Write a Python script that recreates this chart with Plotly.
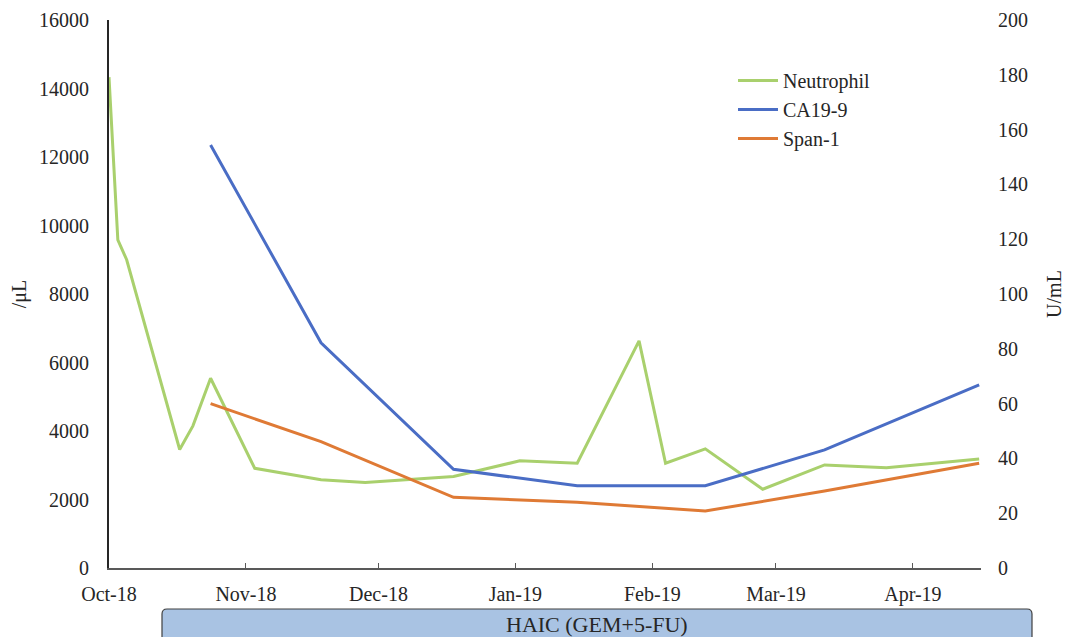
import plotly.graph_objects as go

# ---- data ----
neut_dates = ["2018-10-01", "2018-10-03", "2018-10-05", "2018-10-17", "2018-10-20",
              "2018-10-24", "2018-11-03", "2018-11-18", "2018-11-28", "2018-12-18",
              "2019-01-02", "2019-01-15", "2019-01-29", "2019-02-04", "2019-02-13",
              "2019-02-26", "2019-03-12", "2019-03-26", "2019-04-16"]
neutrophil = [14330, 9580, 9000, 3460, 4150, 5540, 2910, 2580, 2500, 2670,
              3130, 3060, 6630, 3060, 3480, 2300, 3010, 2930, 3180]

marker_dates = ["2018-10-24", "2018-11-18", "2018-12-18", "2019-01-15",
                "2019-02-13", "2019-03-12", "2019-04-16"]
ca199 = [154.4, 82.2, 36.0, 30.0, 30.0, 43.1, 66.8]
span1 = [60.0, 46.1, 25.8, 24.0, 20.8, 28.1, 38.2]

left_ticks = [0, 2000, 4000, 6000, 8000, 10000, 12000, 14000, 16000]
right_ticks = [0, 20, 40, 60, 80, 100, 120, 140, 160, 180, 200]
treatment_label = "HAIC (GEM+5-FU)"

FONT = "Liberation Serif, Times New Roman, serif"
TXT = "#262626"
FS = 20

fig = go.Figure()
fig.add_trace(go.Scatter(x=neut_dates, y=neutrophil, name="Neutrophil", mode="lines",
                         line=dict(color="#A9D06D", width=3)))
fig.add_trace(go.Scatter(x=marker_dates, y=ca199, name="CA19-9", mode="lines",
                         line=dict(color="#4A6DC5", width=3), yaxis="y2"))
fig.add_trace(go.Scatter(x=marker_dates, y=span1, name="Span-1", mode="lines",
                         line=dict(color="#DF7A35", width=3), yaxis="y2"))

# page offset (body margin) compensation
OFF = 8
W, H = 1073 - OFF, 637 - OFF
L, R = 109, 981          # plot area on screen
T, B = 20, 568
def px(xp):
    return (xp - L) / (R - L)
def py(yp):
    return (B - yp) / (B - T)

# treatment bar (rounded rectangle) below x axis
x0, x1, y0, y1, r = 162, 1032, 609, 660, 5
path = (f"M {px(x0)},{py(y1)} L {px(x0)},{py(y0 + r)} "
        f"Q {px(x0)},{py(y0)} {px(x0 + r)},{py(y0)} "
        f"L {px(x1 - r)},{py(y0)} Q {px(x1)},{py(y0)} {px(x1)},{py(y0 + r)} "
        f"L {px(x1)},{py(y1)} Z")
fig.add_shape(type="path", path=path, xref="paper", yref="paper",
              fillcolor="#A9C3E3", line=dict(color="#404040", width=1.2), layer="above")
fig.add_annotation(x=px((x0 + x1) / 2), y=py(624), xref="paper", yref="paper",
                   text=treatment_label, showarrow=False,
                   font=dict(family=FONT, size=22, color=TXT), xanchor="center", yanchor="middle")

fig.update_layout(
    width=W, height=H,
    margin=dict(l=L - OFF, r=W - (R - OFF), t=T - OFF, b=H - (B - OFF), autoexpand=False),
    paper_bgcolor="white", plot_bgcolor="white",
    font=dict(family=FONT, size=FS, color=TXT),
    showlegend=True,
    legend=dict(x=px(733), y=py(61), xanchor="left", yanchor="top",
                bgcolor="rgba(0,0,0,0)", font=dict(family=FONT, size=FS, color=TXT),
                tracegroupgap=0, itemwidth=40),
    xaxis=dict(type="date", range=["2018-10-01", "2019-04-16 10:00"],
               tick0="2018-10-01", dtick="M1", tickformat="%b-%y",
               showgrid=False, zeroline=False, showline=True, linecolor="#595959", linewidth=1.5,
               ticks="inside", ticklen=5, tickcolor="#595959", tickwidth=1.2,
               ticklabelstandoff=7, tickfont=dict(size=FS, color=TXT), automargin=False),
    yaxis=dict(range=[0, 16000], tickvals=left_ticks, tickformat="d",
               showgrid=False, zeroline=False,
               showline=True, linecolor="#262626", linewidth=2, ticks="",
               ticklabelstandoff=14, tickfont=dict(size=FS, color=TXT),
               title=dict(text="/μL", font=dict(size=FS, color=TXT), standoff=10),
               automargin=False),
    yaxis2=dict(range=[0, 200], tickvals=right_ticks, overlaying="y", side="right",
                showgrid=False, zeroline=False, showline=False, ticks="",
                ticklabelstandoff=16, tickfont=dict(size=FS, color=TXT),
                title=dict(text="U/mL", font=dict(size=FS, color=TXT), standoff=19),
                automargin=False),
)

fig.write_html("out.html")
